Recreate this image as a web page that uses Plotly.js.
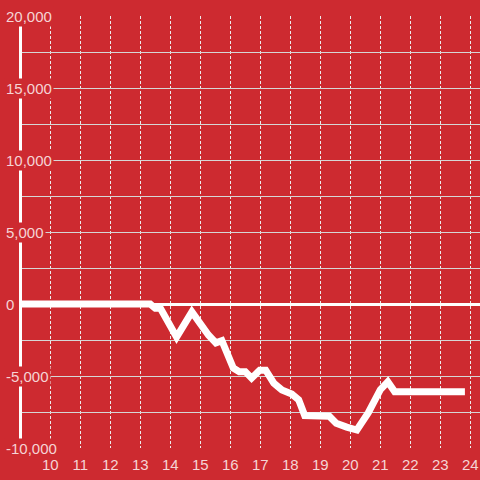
<!DOCTYPE html>
<html>
<head>
<meta charset="utf-8">
<script src="https://cdn.plot.ly/plotly-3.0.1.min.js"></script>
<style>html,body{margin:0;padding:0;background:#cd2a30;}#chart{width:480px;height:480px;}</style>
</head>
<body>
<div id="chart"></div>
<script>
var hours = [9.0, 13.33, 13.5, 13.67, 14.21, 14.72, 15.27, 15.52, 15.72, 16.1, 16.3, 16.5, 16.71, 16.98, 17.18, 17.45, 17.72, 18.05, 18.28, 18.48, 19.3, 19.53, 19.88, 20.22, 20.6, 21.0, 21.25, 21.48, 23.82];
var values = [0, 0, -300, -300, -2300, -550, -2150, -2700, -2550, -4450, -4700, -4700, -5150, -4600, -4600, -5500, -5970, -6250, -6650, -7750, -7800, -8280, -8550, -8750, -7550, -5950, -5400, -6100, -6100];
var xTicks = [10, 11, 12, 13, 14, 15, 16, 17, 18, 19, 20, 21, 22, 23, 24];
var yGrid = [-10000, -7500, -5000, -2500, 0, 2500, 5000, 7500, 10000, 12500, 15000, 17500, 20000];
var yLabelVals = [-10000, -5000, 0, 5000, 10000, 15000, 20000];
var yLabelText = ['-10,000', '-5,000', '0', '5,000', '10,000', '15,000', '20,000'];

var bg = '#cd2a30';
var labelColor = '#f5d4d5';
var font = 'Liberation Sans, Arial, sans-serif';

var annotations = yLabelVals.map(function(v, i) {
  return {
    xref: 'paper', yref: 'y', x: -0.039, y: v,
    xanchor: 'left', yanchor: 'middle',
    text: yLabelText[i], showarrow: false,
    bgcolor: bg, borderpad: 1,
    font: {family: font, size: 15, color: labelColor}
  };
});

var trace = {
  x: hours, y: values, type: 'scatter', mode: 'lines',
  line: {color: '#ffffff', width: 7},
  hoverinfo: 'skip'
};

var layout = {
  width: 480, height: 480,
  margin: {l: 22, r: 0, t: 16, b: 32},
  paper_bgcolor: bg, plot_bgcolor: bg,
  showlegend: false,
  font: {family: font, size: 15, color: labelColor},
  xaxis: {
    range: [9.057, 24.323],
    tickmode: 'array', tickvals: xTicks, ticktext: xTicks.map(String),
    showgrid: true, gridcolor: '#ececec', gridwidth: 1, griddash: '3px,2px',
    zeroline: false, showline: false, ticks: '',
    ticklabelstandoff: 6,
    tickfont: {family: font, size: 15, color: labelColor}
  },
  yaxis: {
    range: [-10000, 20000],
    tickmode: 'array', tickvals: yGrid, showticklabels: false,
    showgrid: true, gridcolor: '#d6d6d6', gridwidth: 1,
    zeroline: true, zerolinecolor: '#ffffff', zerolinewidth: 3,
    showline: true, linecolor: '#ffffff', linewidth: 3, ticks: ''
  },
  annotations: annotations
};

Plotly.newPlot('chart', [trace], layout, {staticPlot: true, displayModeBar: false});
</script>
</body>
</html>
